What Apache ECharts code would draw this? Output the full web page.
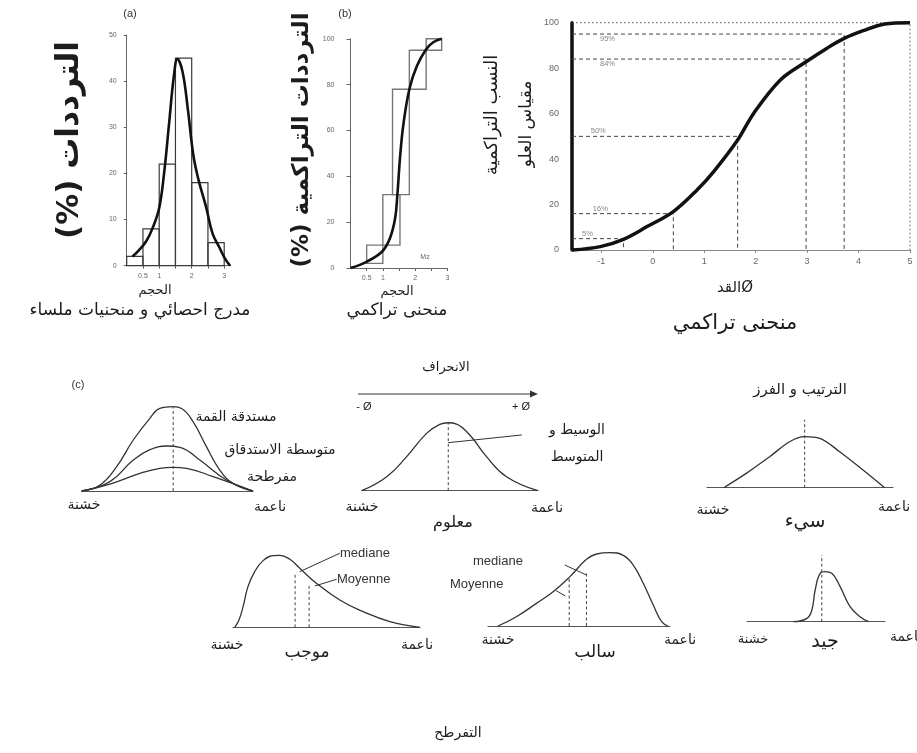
<!DOCTYPE html>
<html>
<head>
<meta charset="utf-8">
<script src="https://cdn.jsdelivr.net/npm/echarts@6/dist/echarts.min.js"></script>
<style>
  html, body { margin: 0; padding: 0; background: #fff; }
  #chart { width: 917px; height: 753px; }
</style>
</head>
<body>
<div id="chart"></div>
<script>
// ---------- (a) frequency histogram with smoothed curve ----------
const sizeBinStart = [0, 0.5, 1, 1.5, 2, 2.5];
const sizeBinEnd = [0.5, 1, 1.5, 2, 2.5, 3];
const freqPct = [2, 8, 22, 45, 18, 5];
const freqCurveX = [0.18, 0.38, 0.6, 0.8, 1.0, 1.15, 1.3, 1.45, 1.56, 1.72, 1.88, 2.05, 2.21, 2.44, 2.64, 2.85, 3.02, 3.18];
const freqCurveY = [2, 3.4, 5.3, 8.2, 12.5, 20, 30.5, 41, 44.8, 42, 34, 24, 18.6, 12.8, 7, 4, 1.6, 0];
const sizeTicks = [0.5, 1, 1.5, 2, 2.5, 3];
const sizeTickLabels = [0.5, 1, 2, 3];

// ---------- (b) cumulative frequency steps and curve ----------
const cumStepX0 = [0.5, 1.0, 1.3, 1.82, 2.34];
const cumStepX1 = [1.0, 1.53, 1.82, 2.34, 2.82];
const cumStepY0 = [2, 10, 32, 78, 95];
const cumStepY1 = [10, 32, 78, 95, 100];
const cumCurveX = [0, 0.48, 0.98, 1.22, 1.38, 1.45, 1.53, 1.63, 1.82, 2.05, 2.34, 2.56, 2.82];
const cumCurveY = [0, 2.6, 7.2, 13, 21.7, 32, 47.8, 62, 78, 88, 95.4, 98.5, 100];

// ---------- cumulative curve on the phi scale ----------
const phiX = [-1.57, -1.02, -0.57, -0.11, 0.40, 0.86, 1.18, 1.65, 1.96, 2.48, 2.98, 3.38, 3.72, 4.09, 4.51, 5.0];
const phiY = [0, 1.5, 4.7, 10.3, 16.9, 26.4, 34.4, 48.4, 60.1, 74.8, 82.8, 88.7, 93.1, 96.5, 99.4, 100];
const pctLevels = [5, 16, 50, 84, 95];
const pctPhi = [-0.57, 0.40, 1.65, 2.98, 3.72];
const pctLabelPhi = [-1.27, -1.02, -1.06, -0.88, -0.88];
const phiTicks = [-1, 0, 1, 2, 3, 4, 5];
const phiMin = -1.57, phiMax = 5;

// ---------- (c) sketch curves (x: 0-100 across the size range, y: relative height) ----------
const leptoX = [0, 10.7, 20.4, 30.1, 39.8, 45.6, 53.4, 58.3, 65, 72.8, 80.6, 88.3, 100];
const leptoY = [0, 7, 28.3, 59.3, 84.5, 96, 98, 96, 80.6, 51.6, 24.4, 8.9, 0];
const mesoX = [0, 16.5, 30.1, 39.8, 49.5, 57.3, 68.9, 84.5, 100];
const mesoY = [0, 10.9, 36, 48, 52.3, 50.8, 36, 12.8, 0];
const platyX = [0, 16.5, 34, 45.6, 53.4, 61.2, 76.7, 100];
const platyY = [0, 8.1, 20.5, 26.4, 27.5, 26.4, 16.7, 0];
const kurtMode = 53.4;

const normalX = [0, 14.2, 25.5, 36.8, 44.3, 49.1, 53.8, 61.3, 70.8, 82.1, 100];
const normalY = [0, 20, 48.6, 81.9, 94.8, 97.1, 95.2, 79.5, 48.6, 20, 0];
const normalMedian = 49.1;

const poorX = [9, 21.1, 33.7, 44.4, 52.5, 60.6, 71.3, 83.9, 95.5];
const poorY = [0, 21.1, 45.6, 67.6, 75, 72.5, 52.9, 26, 0];
const poorMedian = 52.5;

const goodX = [33.7, 43.4, 47, 49.4, 53, 56.6, 61.4, 67.5, 74.7, 81.9, 88];
const goodY = [0, 5, 17.5, 47.5, 72.5, 75, 72.5, 52.5, 22.5, 7.5, 0];
const goodMedian = 54.2;

const posSkewX = [0.9, 3.2, 5.4, 8, 11.6, 16.1, 21.4, 25, 30.4, 35.7, 44.6, 57.1, 69.6, 83.9, 100];
const posSkewY = [0, 9.8, 27.6, 54.2, 74.2, 88.9, 95.6, 96, 90.7, 78.7, 58.7, 36.4, 20.9, 7.6, 0];
const posMedian = [33.2, 73.3];
const posMean = [40.7, 56.4];

const negSkewX = [5.5, 15.6, 26.6, 35.8, 45, 54.1, 59.6, 67, 74.3, 79.8, 85.3, 90.8, 95.4, 99];
const negSkewY = [0, 12.4, 30.2, 45.8, 65.8, 88.9, 96, 97.8, 94.2, 81.3, 56.9, 28, 5.8, 0];
const negMedian = [44.6, 64.9];
const negMean = [54.1, 70.2];

// ---------- helpers ----------
const AR = 'DejaVu Sans';
const LAT = 'Liberation Sans, Arial, sans-serif';
const zip = (xs, ys) => xs.map((x, i) => [x, ys[i]]);

const grids = [], xAxes = [], yAxes = [], series = [];
function addGrid(box, xa, ya) {
  grids.push(Object.assign({ containLabel: false }, box));
  const gi = grids.length - 1;
  xAxes.push(Object.assign({ gridIndex: gi, type: 'value' }, xa));
  yAxes.push(Object.assign({ gridIndex: gi, type: 'value' }, ya));
  return gi;
}
function line(gi, data, color, width, opts) {
  series.push(Object.assign({
    type: 'line', xAxisIndex: gi, yAxisIndex: gi, data: data,
    symbol: 'none', silent: true, animation: false, clip: false,
    lineStyle: { color: color, width: width }
  }, opts || {}));
}
function boxSeries(gi, data, stroke, width) {
  series.push({
    type: 'custom', xAxisIndex: gi, yAxisIndex: gi, silent: true, animation: false,
    encode: { x: [0, 1], y: [2, 3] },
    data: data,
    renderItem: function (params, api) {
      const a = api.coord([api.value(0), api.value(2)]);
      const b = api.coord([api.value(1), api.value(3)]);
      return {
        type: 'rect',
        shape: { x: a[0], y: b[1], width: b[0] - a[0], height: a[1] - b[1] },
        style: { fill: 'none', stroke: stroke, lineWidth: width }
      };
    }
  });
}
const sketchX = {
  min: 0, max: 100,
  axisLine: { show: true, onZero: false, lineStyle: { color: '#555', width: 1.2 } },
  axisTick: { show: false }, axisLabel: { show: false }, splitLine: { show: false }
};
const sketchY = { min: 0, max: 100, show: false };
const dash = { color: '#444', width: 1, type: [3, 2.5] };

// ---------- (a) ----------
const gA = addGrid({ left: 126.7, top: 35, width: 104, height: 230.7 }, {
  min: 0, max: 3.2,
  axisLine: { onZero: false, lineStyle: { color: '#666', width: 1 } },
  axisTick: { customValues: sizeTicks, length: 3, lineStyle: { color: '#666' } },
  axisLabel: { customValues: sizeTickLabels, fontSize: 7, color: '#666', margin: 7, fontFamily: LAT },
  splitLine: { show: false }
}, {
  min: 0, max: 50, interval: 10,
  axisLine: { show: true, onZero: false, lineStyle: { color: '#666', width: 1 } },
  axisTick: { show: true, length: 3, lineStyle: { color: '#666' } },
  axisLabel: { fontSize: 7, color: '#666', margin: 10, fontFamily: LAT },
  splitLine: { show: false }
});
boxSeries(gA, sizeBinStart.map((s, i) => [s, sizeBinEnd[i], 0, freqPct[i]]), '#3a3a3a', 1.2);
line(gA, zip(freqCurveX, freqCurveY), '#111', 2.6, { smooth: 0.4, z: 5 });

// ---------- (b) ----------
const gB = addGrid({ left: 350.5, top: 38.8, width: 97, height: 229.2 }, {
  min: 0, max: 3,
  axisLine: { onZero: false, lineStyle: { color: '#666', width: 1 } },
  axisTick: { customValues: sizeTicks, length: 3, lineStyle: { color: '#666' } },
  axisLabel: { customValues: sizeTickLabels, fontSize: 7, color: '#666', margin: 7, fontFamily: LAT },
  splitLine: { show: false }
}, {
  min: 0, max: 100, interval: 20,
  axisLine: { show: true, onZero: false, lineStyle: { color: '#666', width: 1 } },
  axisTick: { show: true, length: 4, lineStyle: { color: '#666' } },
  axisLabel: { fontSize: 7, color: '#666', margin: 16, fontFamily: LAT },
  splitLine: { show: false }
});
boxSeries(gB, cumStepX0.map((s, i) => [s, cumStepX1[i], cumStepY0[i], cumStepY1[i]]), '#777', 1.4);
line(gB, zip(cumCurveX, cumCurveY), '#111', 2.6, { smooth: 0.4, z: 5 });

// ---------- phi-scale cumulative curve ----------
const gC = addGrid({ left: 572, top: 22.7, width: 338, height: 227.3 }, {
  min: phiMin, max: phiMax,
  axisLine: { onZero: false, lineStyle: { color: '#888', width: 1.2 } },
  axisTick: { customValues: phiTicks, length: 3, lineStyle: { color: '#888' } },
  axisLabel: { customValues: phiTicks, fontSize: 9, color: '#666', margin: 7, fontFamily: LAT },
  splitLine: { show: false }
}, {
  min: 0, max: 100, interval: 20,
  axisLine: { show: true, onZero: false, lineStyle: { color: '#111', width: 3.5 } },
  axisTick: { show: false },
  axisLabel: { fontSize: 9, color: '#666', margin: 13, fontFamily: LAT },
  splitLine: { show: false }
});
pctLevels.forEach((p, i) => {
  line(gC, [[phiMin, p], [pctPhi[i], p], [pctPhi[i], 0]], '#444', 1, {
    lineStyle: { color: '#444', width: 1, type: [4, 3] }, z: 2
  });
});
line(gC, [[phiMin, 100], [phiMax, 100], [phiMax, 0]], '#555', 1, {
  lineStyle: { color: '#555', width: 1, type: [1.5, 2.5] }, z: 2
});
series.push({
  type: 'scatter', xAxisIndex: gC, yAxisIndex: gC, symbolSize: 0, silent: true, animation: false,
  data: pctLevels.map((p, i) => ({
    value: [pctLabelPhi[i], p],
    label: {
      show: true, formatter: p + '%', fontSize: 7.5, color: '#666', fontFamily: LAT,
      position: 'inside', offset: [0, p > 60 ? 5 : -5]
    }
  }))
});
line(gC, zip(phiX, phiY), '#111', 3.5, { smooth: 0.35, z: 5 });

// ---------- (c) kurtosis ----------
const gK = addGrid({ left: 81.7, top: 405, width: 171.3, height: 86 }, sketchX, sketchY);
line(gK, zip(leptoX, leptoY), '#333', 1.3, { smooth: 0.45 });
line(gK, zip(mesoX, mesoY), '#333', 1.3, { smooth: 0.45 });
line(gK, zip(platyX, platyY), '#333', 1.3, { smooth: 0.45 });
line(gK, [[kurtMode, 0], [kurtMode, 98]], '#444', 1, { lineStyle: dash });

// ---------- symmetric (known) ----------
const gN = addGrid({ left: 361.7, top: 420.7, width: 176.3, height: 70 }, sketchX, sketchY);
line(gN, zip(normalX, normalY), '#333', 1.3, { smooth: 0.45 });
line(gN, [[normalMedian, 0], [normalMedian, 97]], '#444', 1, { lineStyle: dash });
line(gN, [[normalMedian, 68.6], [90.8, 79.6]], '#333', 1);

// ---------- poor sorting ----------
const gP = addGrid({ left: 707, top: 419.7, width: 186, height: 68 }, sketchX, sketchY);
line(gP, zip(poorX, poorY), '#333', 1.3, { smooth: 0.35 });
line(gP, [[poorMedian, 0], [poorMedian, 100]], '#444', 1, { lineStyle: dash });

// ---------- good sorting ----------
const gG = addGrid({ left: 747, top: 555, width: 138, height: 66.7 }, sketchX, sketchY);
line(gG, zip(goodX, goodY), '#333', 1.3, { smooth: 0.45 });
line(gG, [[goodMedian, 0], [goodMedian, 100]], '#444', 1, { lineStyle: dash });

// ---------- positive skew ----------
const gS1 = addGrid({ left: 233, top: 552.3, width: 187, height: 75 }, sketchX, sketchY);
line(gS1, zip(posSkewX, posSkewY), '#333', 1.3, { smooth: 0.45 });
line(gS1, [[posMedian[0], 0], [posMedian[0], posMedian[1]]], '#444', 1, { lineStyle: dash });
line(gS1, [[posMean[0], 0], [posMean[0], posMean[1]]], '#444', 1, { lineStyle: dash });
line(gS1, [[35.7, 74.2], [57.1, 98.7]], '#333', 1);
line(gS1, [[43.75, 55.1], [55.4, 64]], '#333', 1);

// ---------- negative skew ----------
const gS2 = addGrid({ left: 488, top: 551, width: 182, height: 75 }, sketchX, sketchY);
line(gS2, zip(negSkewX, negSkewY), '#333', 1.3, { smooth: 0.45 });
line(gS2, [[negMedian[0], 0], [negMedian[0], negMedian[1]]], '#444', 1, { lineStyle: dash });
line(gS2, [[negMean[0], 0], [negMean[0], negMean[1]]], '#444', 1, { lineStyle: dash });
line(gS2, [[42.2, 81.3], [54.1, 68]], '#333', 1);
line(gS2, [[37.5, 47], [42.5, 40]], '#333', 1);

// ---------- text ----------
function txt(x, y, text, size, opts) {
  return Object.assign({
    type: 'text', x: x, y: y, silent: true,
    style: Object.assign({
      text: text, fontSize: size, fontFamily: AR, fill: '#1c1c1c',
      align: 'center', verticalAlign: 'middle'
    }, (opts && opts.style) || {})
  }, opts && opts.rotation ? { rotation: opts.rotation } : {});
}
const RLM = '\u200F';
const up = { rotation: Math.PI / 2 };
const graphics = [
  txt(130, 14, '(a)', 11, { style: { fontFamily: LAT, fill: '#333' } }),
  txt(345, 14, '(b)', 11, { style: { fontFamily: LAT, fill: '#333' } }),
  txt(70, 140, 'الترددات (%)' + RLM, 31, Object.assign({ style: { fontWeight: 'bold' } }, up)),
  txt(302, 140, 'الترددات التراكمية (%)' + RLM, 23, Object.assign({ style: { fontWeight: 'bold' } }, up)),
  txt(155, 291, 'الحجم', 13),
  txt(397, 292, 'الحجم', 13),
  txt(140, 311, 'مدرج احصائي و منحنيات ملساء', 17),
  txt(397, 311, 'منحنى تراكمي', 17),
  txt(425, 257, 'Mz', 7, { style: { fontFamily: LAT, fill: '#666' } }),
  txt(492, 115, 'النسب التراكمية', 18, up),
  txt(527, 124, 'مقياس العلو', 17, up),
  txt(735, 288, 'القدØ', 15),
  txt(735, 324, 'منحنى تراكمي', 21),

  txt(78, 385, '(c)', 11, { style: { fontFamily: LAT, fill: '#333' } }),
  txt(236, 417, 'مستدقة القمة', 14),
  txt(280, 450, 'متوسطة الاستدقاق', 14),
  txt(272, 477, 'مفرطحة', 14),
  txt(84, 505, 'خشنة', 14),
  txt(270, 507, 'ناعمة', 14),

  txt(446, 368, 'الانحراف', 13),
  txt(364, 407, '- Ø', 11, { style: { fontFamily: LAT } }),
  txt(521, 407, '+ Ø', 11, { style: { fontFamily: LAT } }),
  txt(577, 430, 'الوسيط و', 14),
  txt(577, 457, 'المتوسط', 14),
  txt(362, 507, 'خشنة', 14),
  txt(547, 508, 'ناعمة', 14),
  txt(453, 523, 'معلوم', 16),

  txt(800, 390, 'الترتيب و الفرز', 15),
  txt(713, 510, 'خشنة', 14),
  txt(894, 507, 'ناعمة', 14),
  txt(805, 522, 'سيء', 19),

  txt(753, 640, 'خشنة', 13),
  txt(825, 642, 'جيد', 19),
  txt(906, 637, 'ناعمة', 14),

  txt(340, 553, 'mediane', 13, { style: { fontFamily: LAT, align: 'left', fill: '#333' } }),
  txt(337, 579, 'Moyenne', 13, { style: { fontFamily: LAT, align: 'left', fill: '#333' } }),
  txt(227, 645, 'خشنة', 14),
  txt(307, 653, 'موجب', 17),
  txt(417, 645, 'ناعمة', 14),

  txt(473, 561, 'mediane', 13, { style: { fontFamily: LAT, align: 'left', fill: '#333' } }),
  txt(450, 584, 'Moyenne', 13, { style: { fontFamily: LAT, align: 'left', fill: '#333' } }),
  txt(498, 640, 'خشنة', 14),
  txt(595, 653, 'سالب', 17),
  txt(680, 640, 'ناعمة', 14),

  txt(458, 733, 'التفرطح', 14),

  // deviation arrow
  { type: 'line', silent: true, shape: { x1: 358, y1: 394, x2: 532, y2: 394 }, style: { stroke: '#333', lineWidth: 1.2 } },
  { type: 'polygon', silent: true, shape: { points: [[538, 394], [530, 390.5], [530, 397.5]] }, style: { fill: '#333' } }
];

const chart = echarts.init(document.getElementById('chart'), null, { renderer: 'canvas' });
chart.setOption({
  backgroundColor: '#fff',
  animation: false,
  grid: grids,
  xAxis: xAxes,
  yAxis: yAxes,
  series: series,
  graphic: graphics
});
</script>
</body>
</html>
